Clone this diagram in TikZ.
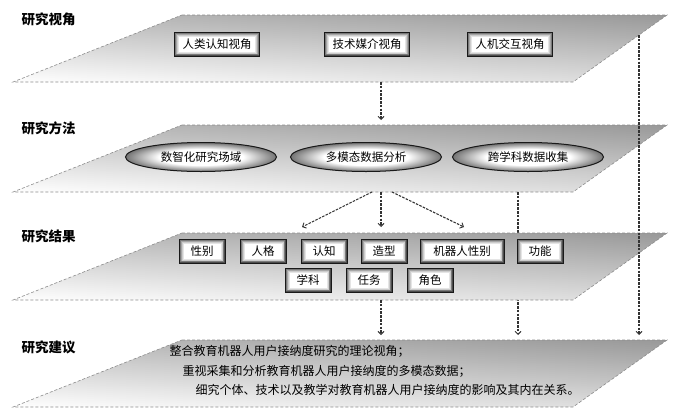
\documentclass[tikz,border=0pt]{standalone}
\usepackage{fontspec}
\newfontfamily\cjk{Noto Sans CJK SC}
\usetikzlibrary{shapes.geometric,arrows.meta}

% soft centre for the method ovals
\pgfdeclareradialshading{ovalshade}{\pgfpoint{0bp}{0bp}}{color(0bp)=(white);color(14bp)=(white);color(25bp)=(black!55);color(50bp)=(black!55)}

\tikzset{
  plane/.style={top color=black!40, middle color=black!8, bottom color=white},
  planeside/.style={left color=white, right color=black!40, fill opacity=0.35},
  planeedge/.style={draw=black!45, dash pattern=on 3pt off 2pt, line width=0.6pt},
  layertitle/.style={anchor=west, font=\cjk\bfseries\fontsize{13.5}{15}\selectfont},
  itembox/.style={draw=black!90, line width=1pt, fill=white, minimum width=46pt,
    minimum height=24pt, inner xsep=8pt, font=\cjk\fontsize{11.5}{13}\selectfont,
    path picture={
      \foreach \w/\c in {9/10, 7/20, 5/35, 3.2/52, 1.8/70}
        \draw[line width=\w pt, black!\c] (path picture bounding box.south west)
          rectangle (path picture bounding box.north east);
    }},
  methodoval/.style={ellipse, draw=black!90, line width=1pt, shade, shading=ovalshade,
    minimum width=151pt, minimum height=29pt, font=\cjk\fontsize{11.5}{13}\selectfont},
  advice/.style={anchor=west, font=\cjk\fontsize{12}{14}\selectfont},
  flow/.style={draw=black!80, line width=1.1pt, dash pattern=on 2.5pt off 1.3pt,
    -{Straight Barb[length=3pt,width=6pt,line width=0.9pt]}}
}

\begin{document}
\begin{tikzpicture}[x=1pt,y=-1pt]

    % Canvas
    \useasboundingbox (0,0) rectangle (700,407);

    % Connector end points
    \coordinate (viewout) at (381,82);
    \coordinate (methodin) at (381,120);
    \coordinate (methodoutl) at (372,192);
    \coordinate (methodoutc) at (381,192);
    \coordinate (methodoutr) at (392,192);
    \coordinate (resultinl) at (302,227);
    \coordinate (resultinc) at (381,227);
    \coordinate (resultinr) at (464,227);
    \coordinate (methodside) at (518,192);
    \coordinate (viewside) at (639,35);
    \coordinate (resultout) at (381,300);
    \coordinate (adviceinc) at (381,335);
    \coordinate (adviceinm) at (518,335);
    \coordinate (adviceinr) at (639,335);

    % Plane 1: perspectives
    \shade[plane] (182,15) -- (667,15) -- (573,82) -- (13,82) -- cycle;
    \shade[planeside] (182,15) -- (667,15) -- (573,82) -- (13,82) -- cycle;
    \draw[planeedge] (182,15) -- (667,15) -- (573,82) -- (13,82) -- cycle;
    \node[layertitle] (viewtitle) at (18,19) {研究视角};
    \node[itembox] (human) at (217,44) {人类认知视角};
    \node[itembox] (media) at (367,44) {技术媒介视角};
    \node[itembox] (hci) at (510,44) {人机交互视角};

    % Plane 2: methods
    \shade[plane] (182,125) -- (667,125) -- (573,192) -- (13,192) -- cycle;
    \shade[planeside] (182,125) -- (667,125) -- (573,192) -- (13,192) -- cycle;
    \draw[planeedge] (182,125) -- (667,125) -- (573,192) -- (13,192) -- cycle;
    \node[layertitle] (methodtitle) at (18,128) {研究方法};
    \node[methodoval] (field) at (201,157) {数智化研究场域};
    \node[methodoval] (multi) at (366,157) {多模态数据分析};
    \node[methodoval] (cross) at (528,157) {跨学科数据收集};

    % side line runs behind plane 3
    \draw[flow] (methodside) -- (adviceinm);

    % Plane 3: results
    \shade[plane] (182,233) -- (667,233) -- (573,300) -- (13,300) -- cycle;
    \shade[planeside] (182,233) -- (667,233) -- (573,300) -- (13,300) -- cycle;
    \draw[planeedge] (182,233) -- (667,233) -- (573,300) -- (13,300) -- cycle;
    \node[layertitle] (resulttitle) at (18,236) {研究结果};
    \node[itembox] (gender) at (202,251) {性别};
    \node[itembox] (person) at (263,251) {人格};
    \node[itembox] (cognit) at (324,251) {认知};
    \node[itembox] (shape) at (384,251) {造型};
    \node[itembox, minimum width=84pt] (robotg) at (462,251) {机器人性别};
    \node[itembox] (func) at (540,251) {功能};
    \node[itembox] (subject) at (308,280) {学科};
    \node[itembox] (task) at (369,280) {任务};
    \node[itembox] (role) at (430,280) {角色};

    % Plane 4: advice
    \shade[plane] (182,340) -- (667,340) -- (573,407) -- (13,407) -- cycle;
    \shade[planeside] (182,340) -- (667,340) -- (573,407) -- (13,407) -- cycle;
    \draw[planeedge] (182,340) -- (667,340) -- (573,407) -- (13,407) -- cycle;
    \node[layertitle] (advicetitle) at (18,347) {研究建议};
    \node[advice] (adv1) at (166,351) {整合教育机器人用户接纳度研究的理论视角；};
    \node[advice] (adv2) at (179,371) {重视采集和分析教育机器人用户接纳度的多模态数据；};
    \node[advice] (adv3) at (192,390) {细究个体、技术以及教学对教育机器人用户接纳度的影响及其内在关系。};

    % Flow between planes
    \draw[flow] (viewout) -- (methodin);
    \draw[flow] (methodoutl) -- (resultinl);
    \draw[flow] (methodoutc) -- (resultinc);
    \draw[flow] (methodoutr) -- (resultinr);
    \draw[flow] (resultout) -- (adviceinc);
    \draw[flow] (viewside) -- (adviceinr);

\end{tikzpicture}
\end{document}
